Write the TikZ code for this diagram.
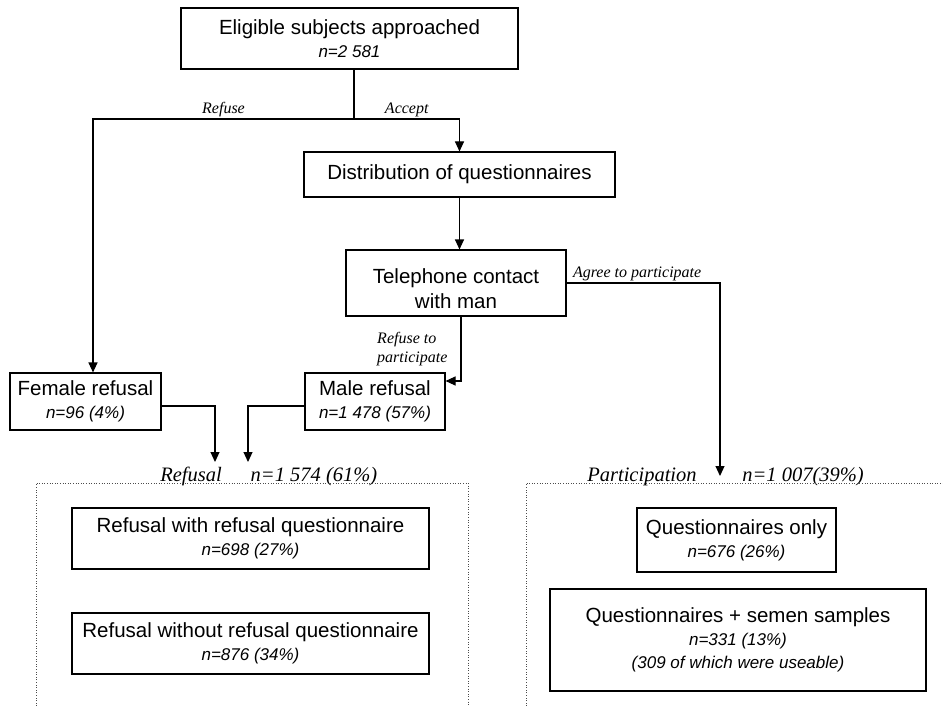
\documentclass[tikz,border=0pt]{standalone}
\usepackage{fontspec}
\setmainfont{Liberation Sans}
\newfontfamily\lblfont{Liberation Serif}
\usetikzlibrary{arrows.meta,positioning}

\newcommand{\nval}[1]{{\fontsize{17}{20}\selectfont\itshape #1}}

\tikzset{
  block/.style={draw,line width=1.1pt,align=center,inner sep=0pt,
    font=\fontsize{20.5}{23}\selectfont},
  lbl/.style={font=\lblfont\itshape\fontsize{16}{19}\selectfont,inner sep=2pt},
  head/.style={font=\lblfont\itshape\fontsize{20.5}{24}\selectfont,anchor=base,inner sep=0pt},
  arr/.style={-{Triangle[length=10pt,width=9pt]},line width=1.1pt},
  frame/.style={dotted,line width=0.6pt,black!70}
}

\begin{document}
\begin{tikzpicture}[x=1pt,y=-1pt,on grid]
    \useasboundingbox (0,0) rectangle (943,706);

    \node[block,minimum width=337pt,minimum height=61pt] (top) at (349.5,38.5) {Eligible subjects approached\\\nval{n=2 581}};
    \node[block,minimum width=311pt,minimum height=45pt] (dist) [below right=136pt and 110pt of top] {Distribution of questionnaires};
    \node[block,minimum width=220pt,minimum height=66pt,font=\fontsize{20.5}{25}\selectfont] (tel) [below left=108.5pt and 3.5pt of dist] {\rule{0pt}{27pt}Telephone contact\\with man};
    \node[block,minimum width=140pt,minimum height=57pt] (male) [below left=118.5pt and 81pt of tel] {Male refusal\\\nval{n=1 478 (57\%)}};
    \node[block,minimum width=151pt,minimum height=57pt] (female) [left=289.5pt of male] {Female refusal\\\nval{n=96 (4\%)}};
    \node[block,minimum width=357pt,minimum height=61pt] (rwith) [below right=137pt and 165pt of female] {Refusal with refusal questionnaire\\\nval{n=698 (27\%)}};
    \node[block,minimum width=357pt,minimum height=61pt] (rwithout) [below=105pt of rwith] {Refusal without refusal questionnaire\\\nval{n=876 (34\%)}};
    \node[block,minimum width=199pt,minimum height=64pt] (qonly) [below right=1.5pt and 486pt of rwith] {Questionnaires only\\\nval{n=676 (26\%)}};
    \node[block,minimum width=376pt,minimum height=102pt] (qsemen) [below right=100pt and 1.5pt of qonly] {Questionnaires + semen samples\\\nval{n=331 (13\%)}\\\nval{(309 of which were useable)}};

    \node[head] (refhead)  at (191,481) {Refusal};
    \node[head] (refn)     at (314,481) {n=1 574 (61\%)};
    \node[head] (parthead) at (642,481) {Participation};
    \node[head] (partn)    at (803,481) {n=1 007(39\%)};

    \coordinate (split) at (354,119);
    \coordinate (fturn) at (93,119);
    \coordinate (rtipA) at (215,462);
    \coordinate (rtipB) at (248,462);
    \coordinate (ptip)  at (720,476);

    \draw[line width=1.1pt] (top.south -| split) -- (split);
    \draw[arr] (split) -- node[lbl,above] {Refuse} (fturn) -- (fturn |- female.north);
    \draw[arr] (split) -- node[lbl,above] {Accept} (split -| dist.north) -- (dist.north);
    \draw[arr] (dist.south) -- (dist.south |- tel.north);
    \draw[arr] ([xshift=5pt]tel.south) |- node[lbl,left,align=left,pos=0.25,xshift=-11pt] {Refuse to\\participate} ([yshift=20.5pt]male.east);
    \draw[arr] (tel.east) -| node[lbl,above,pos=0.23] {Agree to participate} (ptip);
    \draw[arr] ([yshift=-4.5pt]female.east) -| (rtipA);
    \draw[arr] ([yshift=-4.5pt]male.west) -| (rtipB);

    \draw[frame] (36,706) |- (468,483) -- (468,706);
    \draw[frame] (526,706) |- (943,483);
\end{tikzpicture}
\end{document}
